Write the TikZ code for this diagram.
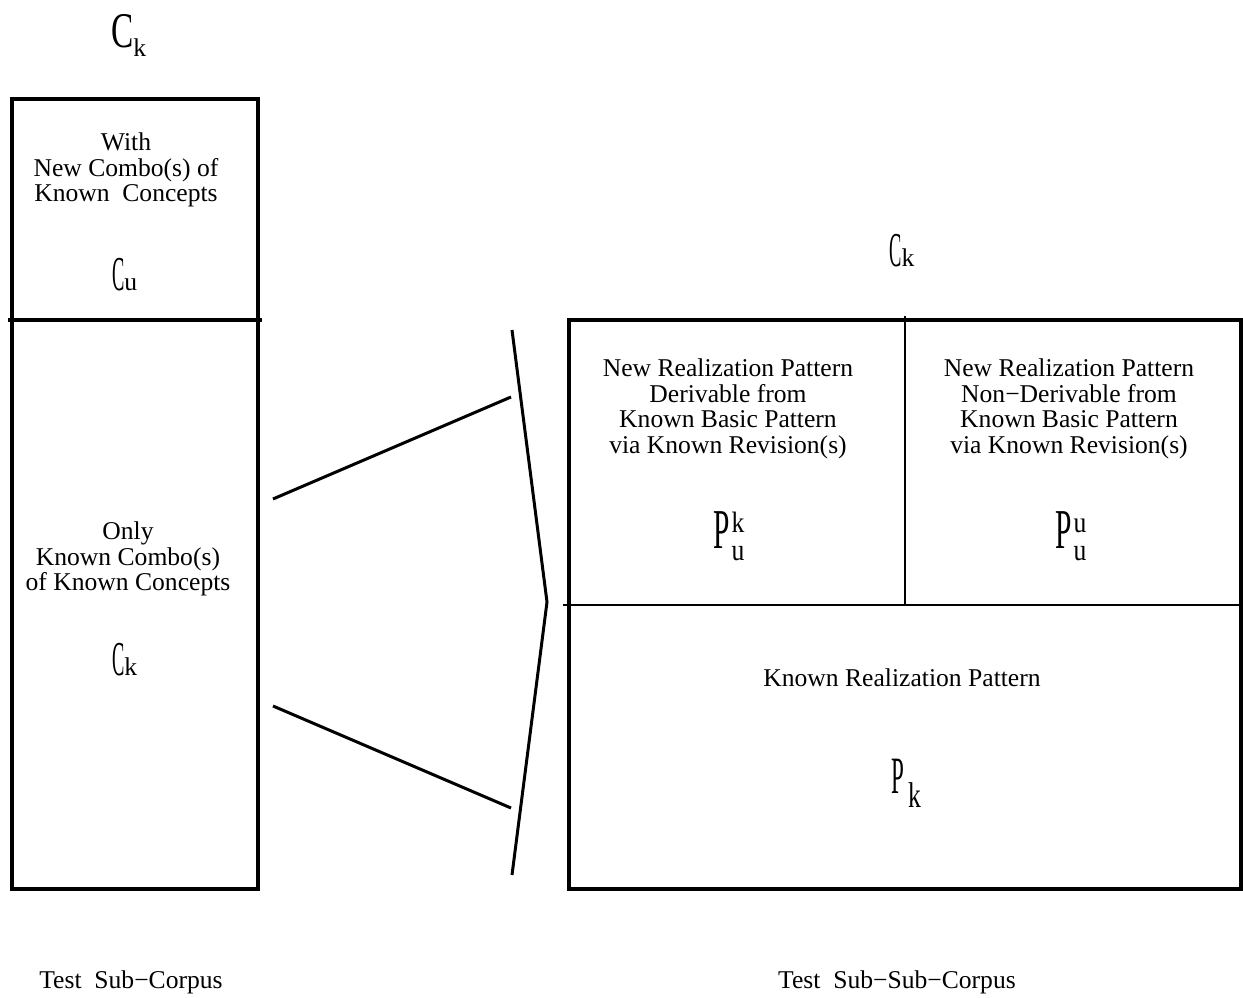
\documentclass[tikz,border=0pt]{standalone}
\usepackage{fontspec}
\setmainfont{Liberation Serif}
\usepackage{graphicx}
\newcommand{\tC}{\scalebox{0.72}[1.9]{C}}
\newcommand{\bigC}{\scalebox{1.3}[1.95]{C}}
\newcommand{\tP}{\scalebox{1.15}[2.2]{P}}
\newcommand{\sP}{\scalebox{0.9}[2.05]{P}}
\newcommand{\supsub}[2]{\hspace{2pt}\makebox[0pt][l]{\raisebox{16pt}{\scalebox{1}[1.15]{#1}}}\raisebox{-12pt}{\scalebox{1}[1.2]{#2}}}
\begin{document}
\begin{tikzpicture}[x=1pt,y=-1pt,
  txt/.style={font=\fontsize{25.6}{25.5}\selectfont, align=center, inner sep=0pt},
  sym/.style={font=\fontsize{25.6}{25.5}\selectfont, inner sep=0pt, anchor=base west},
  heavy/.style={line width=3.6pt},
  medium/.style={line width=3pt},
  light/.style={line width=1.8pt}]
\useasboundingbox (0,0) rectangle (1243,998);
% left box
\draw[heavy] (12,99) rectangle (258,889);
\coordinate (ldl) at (8,320); \coordinate (ldr) at (262,320);
\draw[heavy] (ldl) -- (ldr);
% right box
\draw[heavy] (569,320) rectangle (1241,889);
\coordinate (rhl) at (563,605); \coordinate (rhr) at (1241,605);
\draw[light] (rhl) -- (rhr);
\coordinate (rvt) at (905,316); \coordinate (rvb) at (905,605);
\draw[light] (rvt) -- (rvb);
% bracket
\coordinate (bt) at (512,330); \coordinate (bm) at (547,602); \coordinate (bb) at (512,875);
\draw[medium] (bt) -- (bm) -- (bb);
\coordinate (l1a) at (273,499); \coordinate (l1b) at (511,397);
\coordinate (l2a) at (273,706); \coordinate (l2b) at (511,808);
\draw[medium] (l1a) -- (l1b);
\draw[medium] (l2a) -- (l2b);
% symbols
\node[sym] (ck0) at (111,48) {\bigC\raisebox{-9pt}{k}};
\node[sym] (cu) at (112,290) {\tC u};
\node[sym] (ck1) at (112,675) {\tC k};
\node[sym] (ck2) at (889,266) {\tC k};
\node[sym] (puk) at (713,548) {\tP\supsub{k}{u}};
\node[sym] (puu) at (1055,548) {\tP\supsub{u}{u}};
\node[sym] (pk) at (891,793) {\sP\hspace{4pt}\raisebox{-14pt}{\scalebox{1}[1.4]{k}}};
% texts
\node[txt] (t1) at (126,170) {With\\New Combo(s) of\\Known\ \ Concepts};
\node[txt] (t2) at (128,559) {Only\\Known Combo(s)\\of Known Concepts};
\node[txt] (t3) at (728,409) {New Realization Pattern\\Derivable from\\Known Basic Pattern\\via Known Revision(s)};
\node[txt] (t4) at (1069,409) {New Realization Pattern\\Non−Derivable from\\Known Basic Pattern\\via Known Revision(s)};
\node[txt] (t5) at (902,678) {Known Realization Pattern};
\node[txt] (t6) at (131,982) {Test\ \ Sub−Corpus};
\node[txt] (t7) at (897,982) {Test\ \ Sub−Sub−Corpus};
\end{tikzpicture}
\end{document}
